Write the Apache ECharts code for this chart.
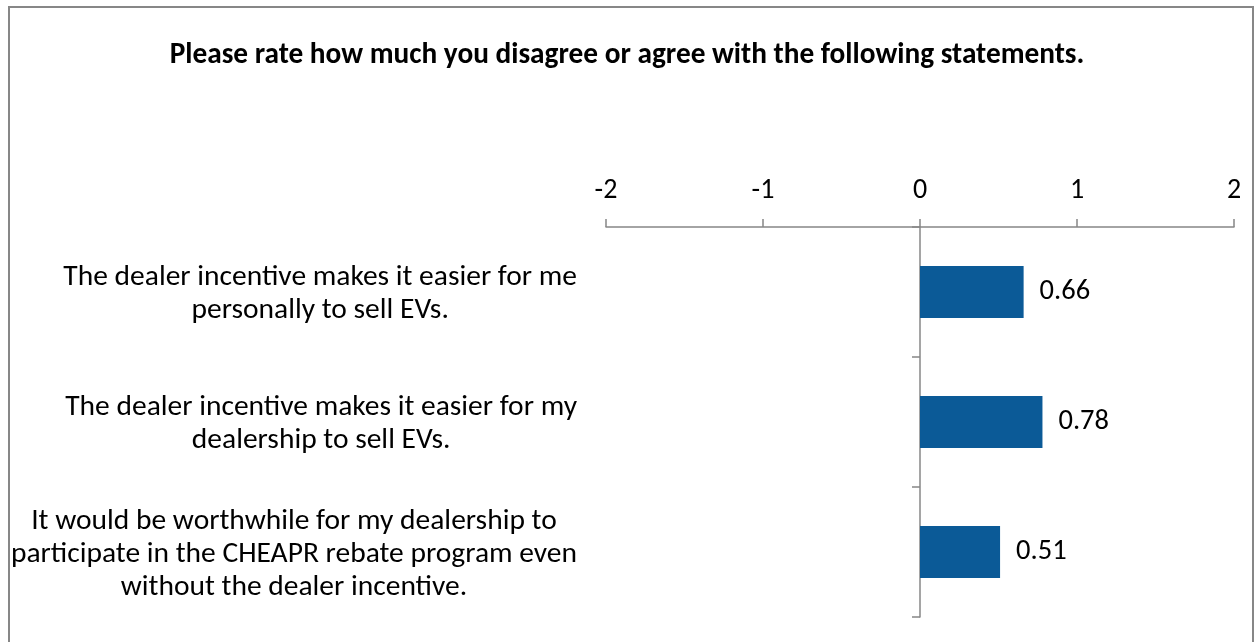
<!DOCTYPE html>
<html>
<head>
<meta charset="utf-8">
<script src="https://cdn.jsdelivr.net/npm/echarts@6/dist/echarts.min.js"></script>
<style>
  html, body { margin: 0; padding: 0; background: #fff; }
  #chart { width: 1254px; height: 642px; }
</style>
</head>
<body>
<div id="chart"></div>
<script>
const titleText = 'Please rate how much you disagree or agree with the following statements.';
const categories = [
  'The dealer incentive makes it easier for me\npersonally to sell EVs.',
  'The dealer incentive makes it easier for my\ndealership to sell EVs.',
  'It would be worthwhile for my dealership to\nparticipate in the CHEAPR rebate program even\nwithout the dealer incentive.'
];
const values = [0.66, 0.78, 0.51];
const axisMin = -2, axisMax = 2, axisStep = 1;

const FONT = "Carlito, 'Open Sans', sans-serif";
const GRAY = '#878787';

const chart = echarts.init(document.getElementById('chart'), null, { renderer: 'canvas' });
chart.setOption({
  backgroundColor: '#fff',
  animation: false,
  title: {
    text: titleText,
    left: 'center',
    top: 36,
    padding: [5, 0, 5, 10],
    textStyle: { fontFamily: FONT, fontSize: 29.3, fontWeight: 'bold', color: '#000' }
  },
  graphic: [{
    type: 'rect',
    shape: { x: 9, y: 7, width: 1244, height: 700 },
    style: { fill: 'none', stroke: GRAY, lineWidth: 2 },
    silent: true
  }],
  grid: { left: 606, right: 20, top: 227, bottom: 25, containLabel: false },
  xAxis: {
    type: 'value',
    position: 'top',
    min: axisMin, max: axisMax, interval: axisStep,
    axisLine: { show: true, lineStyle: { color: GRAY, width: 1.5 } },
    axisTick: { show: true, length: 8, lineStyle: { color: GRAY, width: 1.5 } },
    splitLine: { show: false },
    axisLabel: { margin: 22, fontFamily: FONT, fontSize: 28, color: '#000' }
  },
  yAxis: [{
    type: 'category',
    data: categories,
    inverse: true,
    axisLine: { show: true, onZero: true, lineStyle: { color: GRAY, width: 1.5 } },
    axisTick: { show: true, length: 8, lineStyle: { color: GRAY, width: 1.5 } },
    axisLabel: { show: false },
    splitLine: { show: false }
  }, {
    type: 'category',
    data: categories,
    inverse: true,
    position: 'left',
    axisLine: { show: false, onZero: false },
    axisTick: { show: false },
    splitLine: { show: false },
    axisLabel: {
      show: true,
      align: 'right',
      margin: 29,
      padding: [5, 0, 0, 0],
      formatter: function (v) {
        return v.split('\n').map(function (l) { return '{c|' + l + '}'; }).join('\n');
      },
      rich: {
        c: { align: 'center', fontFamily: FONT, fontSize: 29.5, lineHeight: 33, color: '#000' }
      }
    }
  }],
  series: [{
    type: 'bar',
    yAxisIndex: 0,
    data: values,
    barWidth: '40%',
    itemStyle: { color: '#0B5A97' },
    label: {
      show: true,
      position: 'right',
      distance: 16,
      fontFamily: FONT,
      fontSize: 28.5,
      color: '#000',
      formatter: function (p) { return p.value.toFixed(2); }
    }
  }]
});
</script>
</body>
</html>
